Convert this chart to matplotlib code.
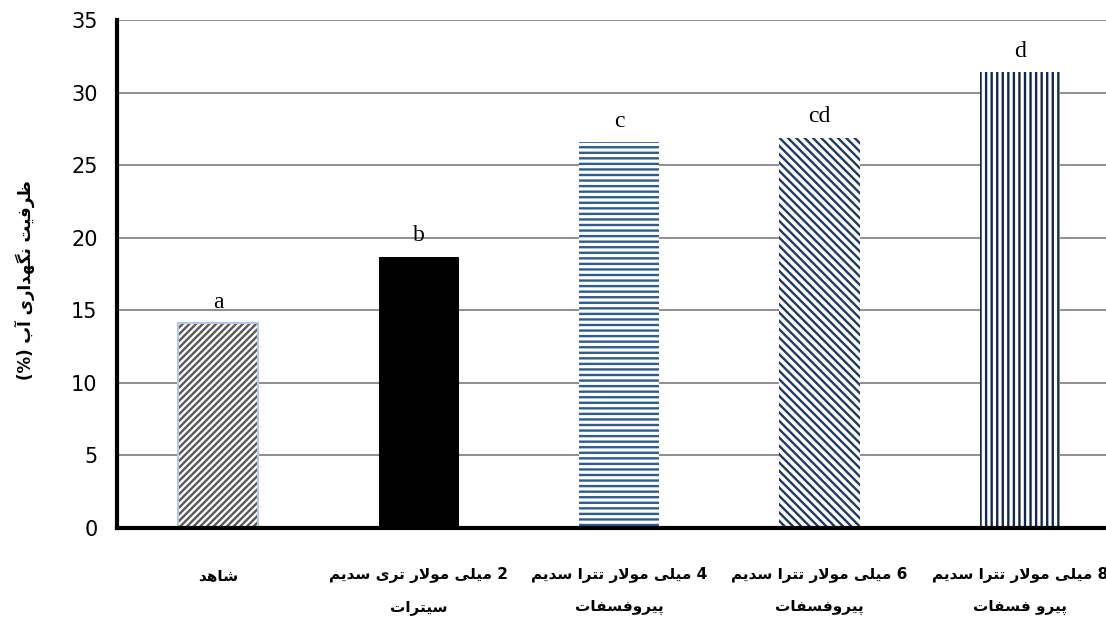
import matplotlib
matplotlib.use("Agg")
import matplotlib.pyplot as plt

# data
treatments = [
    ("شاهد", ""),
    ("2 میلی مولار تری سدیم", "سیترات"),
    ("4 میلی مولار تترا سدیم", "پیروفسفات"),
    ("6 میلی مولار تترا سدیم", "پیروفسفات"),
    ("8 میلی مولار تترا سدیم", "پیرو فسفات"),
]
capacity = [14.1, 18.7, 26.6, 26.9, 31.4]
groups = ["a", "b", "c", "cd", "d"]
y_ticks = [0, 5, 10, 15, 20, 25, 30, 35]
y_title = "ظرفیت نگهداری آب (%)"

# isolated, final, initial, medial presentation forms
FORMS = {
    'ا': ('\uFE8D', '\uFE8E', None, None),
    'آ': ('\uFE81', '\uFE82', None, None),
    'ب': ('\uFE8F', '\uFE90', '\uFE91', '\uFE92'),
    'پ': ('\uFB56', '\uFB57', '\uFB58', '\uFB59'),
    'ت': ('\uFE95', '\uFE96', '\uFE97', '\uFE98'),
    'د': ('\uFEA9', '\uFEAA', None, None),
    'ر': ('\uFEAD', '\uFEAE', None, None),
    'س': ('\uFEB1', '\uFEB2', '\uFEB3', '\uFEB4'),
    'ش': ('\uFEB5', '\uFEB6', '\uFEB7', '\uFEB8'),
    'ط': ('\uFEC1', '\uFEC2', '\uFEC3', '\uFEC4'),
    'ظ': ('\uFEC5', '\uFEC6', '\uFEC7', '\uFEC8'),
    'ف': ('\uFED1', '\uFED2', '\uFED3', '\uFED4'),
    'گ': ('\uFB92', '\uFB93', '\uFB94', '\uFB95'),
    'ل': ('\uFEDD', '\uFEDE', '\uFEDF', '\uFEE0'),
    'م': ('\uFEE1', '\uFEE2', '\uFEE3', '\uFEE4'),
    'ن': ('\uFEE5', '\uFEE6', '\uFEE7', '\uFEE8'),
    'ه': ('\uFEE9', '\uFEEA', '\uFEEB', '\uFEEC'),
    'و': ('\uFEED', '\uFEEE', None, None),
    'ی': ('\uFBFC', '\uFBFD', '\uFBFE', '\uFBFF'),
}


def shape(text):
    # poor man's arabic shaping + visual reordering, matplotlib has none
    out = []
    i = 0
    n = len(text)
    while i < n:
        ch = text[i]
        prev = text[i - 1] if i > 0 else ''
        joins_prev = prev in FORMS and FORMS[prev][2] is not None and ch in FORMS
        if ch == 'ل' and i + 1 < n and text[i + 1] == 'ا':
            out.append('\uFEFC' if joins_prev else '\uFEFB')
            i += 2
            continue
        if ch not in FORMS:
            out.append(ch)
            i += 1
            continue
        nxt = text[i + 1] if i + 1 < n else ''
        joins_next = FORMS[ch][2] is not None and nxt in FORMS
        iso, fin, ini, med = FORMS[ch]
        if joins_prev and joins_next:
            out.append(med)
        elif joins_prev:
            out.append(fin)
        elif joins_next:
            out.append(ini)
        else:
            out.append(iso)
        i += 1
    # reverse for display, keep digit runs left-to-right
    runs = []
    for c in out:
        if c.isdigit() and runs and runs[-1][0].isdigit():
            runs[-1] += c
        else:
            runs.append(c)
    swap = {'(': ')', ')': '('}
    return ''.join(swap.get(r, r) for r in reversed(runs))


fig = plt.figure(figsize=(11.06, 6.23), dpi=100)
ax = fig.add_axes([117 / 1106, 95 / 623, 1 - 117 / 1106, 508 / 623])

x = list(range(len(capacity)))
hatches = ['/////', '', '---', '\\\\\\\\', '|||']
hatch_colors = ['#595959', '#000000', '#2E5C8E', '#1F3A60', '#14284B']
face_colors = ['white', '#000000', 'white', 'white', 'white']

plt.rcParams['hatch.linewidth'] = 1.7
for i in x:
    ax.bar(x[i], capacity[i], width=0.4, color=face_colors[i],
           hatch=hatches[i], edgecolor=hatch_colors[i], linewidth=0, zorder=3)
# light blue outline round the control bar
ax.bar(x[0], capacity[0], width=0.4, fill=False, edgecolor='#B4C7E7',
       linewidth=1.5, zorder=4)

for i in x:
    ax.annotate(groups[i], (x[i], capacity[i]), xytext=(0, 11),
                textcoords='offset points', ha='center', va='baseline',
                fontsize=17, family='Liberation Serif')

ax.set_xlim(-0.505, 4.43)
ax.set_ylim(0, 35)
ax.set_yticks(y_ticks)
ax.tick_params(axis='y', length=0, pad=14, labelsize=15)
ax.tick_params(axis='x', length=0)
ax.set_xticks([])
ax.yaxis.grid(True, color='#868686', linewidth=1.3, zorder=0)
ax.set_axisbelow(True)

for s in ['top', 'right']:
    ax.spines[s].set_visible(False)
ax.spines['left'].set_linewidth(3)
ax.spines['bottom'].set_linewidth(3)
ax.spines['left'].set_zorder(5)
ax.spines['bottom'].set_zorder(5)

trans = ax.get_xaxis_transform()
for i in x:
    line1, line2 = treatments[i]
    ax.text(x[i], -0.093, shape(line1), transform=trans, ha='center',
            va='center', fontsize=11, fontweight='bold', family='DejaVu Sans')
    if line2:
        ax.text(x[i], -0.156, shape(line2), transform=trans, ha='center',
                va='center', fontsize=11, fontweight='bold', family='DejaVu Sans')

fig.text(25 / 1106, 1 - 280 / 623, shape(y_title), rotation=90, ha='center',
         va='center', fontsize=12, fontweight='bold', family='DejaVu Sans')

fig.savefig('out.png', dpi=100)
